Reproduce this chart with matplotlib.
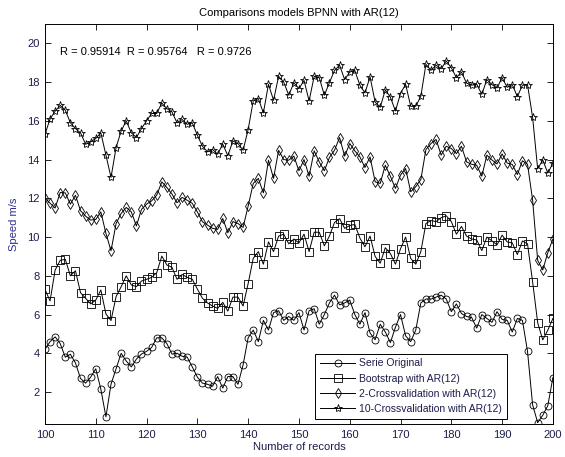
import matplotlib
matplotlib.use("Agg")
import matplotlib.pyplot as plt
import numpy as np

plt.rcParams["font.family"] = ["Liberation Sans", "DejaVu Sans"]

# -------------------------------
# Data (records 100..200)
# -------------------------------
records = np.arange(100, 201)

serie_original = [
    4.2, 4.6, 4.85, 4.5, 3.8, 3.95, 3.5, 2.7, 2.46, 2.77,
    3.2, 2.15, 0.72, 2.4, 3.2, 4.0, 3.6, 3.3, 3.7, 3.96,
    4.1, 4.3, 4.8, 4.8, 4.5, 3.96, 4.0, 3.85, 3.8, 3.3,
    2.77, 2.46, 2.4, 2.3, 2.8, 2.2, 2.8, 2.8, 2.4, 3.4,
    4.8, 5.2, 4.6, 5.7, 5.2, 6.1, 6.2, 5.7, 5.9, 5.7,
    6.1, 5.2, 6.2, 6.3, 5.5, 6.0, 6.6, 7.0, 6.5, 6.6,
    6.75, 6.0, 5.5, 6.1, 5.05, 4.7, 5.5, 5.1, 4.55, 5.35,
    6.0, 4.9, 4.6, 5.2, 6.6, 6.8, 6.8, 6.9, 7.0, 6.8,
    6.15, 6.55, 6.05, 5.9, 5.85, 5.3, 6.0, 5.8, 5.6, 6.15,
    5.75, 5.7, 5.1, 5.8, 5.7, 4.1, 1.35, 0.42, 0.8, 1.3,
    2.75,
]

bootstrap = [
    7.3, 6.7, 8.3, 8.8, 8.85, 8.0, 8.26, 7.13, 6.84, 6.55,
    6.75, 7.27, 6.03, 5.69, 6.93, 7.44, 8.0, 7.53, 7.44, 7.73,
    7.82, 7.92, 8.16, 9.02, 8.56, 8.44, 7.82, 8.07, 7.92, 7.82,
    7.32, 6.84, 6.6, 6.44, 6.32, 6.63, 6.18, 6.9, 6.9, 6.44,
    7.6, 8.9, 9.25, 8.6, 9.75, 9.25, 10.05, 10.15, 9.65, 9.9,
    9.7, 10.15, 9.25, 10.25, 10.25, 9.55, 10.05, 10.75, 10.95, 10.45,
    10.6, 10.65, 9.95, 9.5, 10.05, 9.0, 8.65, 9.45, 9.15, 8.6,
    9.4, 10.0, 8.9, 8.6, 9.25, 10.7, 10.85, 10.8, 11.0, 11.1,
    10.8, 10.15, 10.55, 10.05, 9.9, 9.85, 9.3, 10.0, 9.8, 9.6,
    10.1, 9.75, 9.7, 9.1, 9.8, 9.65, 7.7, 5.58, 4.69, 5.2,
    5.8,
]

cross2 = [
    12.0, 11.75, 11.5, 12.3, 12.28, 11.7, 12.16, 11.36, 11.08, 10.88,
    10.91, 11.3, 10.19, 9.29, 10.7, 11.22, 11.53, 11.3, 10.57, 11.43,
    11.7, 11.87, 12.16, 12.85, 12.56, 12.22, 11.77, 12.05, 11.9, 11.74,
    11.3, 10.79, 10.62, 10.45, 10.4, 10.96, 10.22, 10.8, 10.7, 10.5,
    11.6, 12.77, 13.03, 12.28, 13.97, 13.03, 14.48, 14.0, 13.97, 14.18,
    13.42, 14.0, 13.14, 14.45, 13.88, 13.42, 14.11, 14.48, 15.14, 14.18,
    14.83, 14.45, 14.14, 13.59, 14.14, 12.85, 12.77, 13.71, 13.14, 12.51,
    13.2, 13.54, 12.34, 12.6, 12.97, 14.52, 14.83, 15.04, 14.23, 14.69,
    14.57, 14.31, 14.69, 13.88, 13.76, 13.71, 13.14, 14.23, 13.98, 13.78,
    14.29, 13.82, 13.75, 13.23, 13.94, 13.76, 11.92, 8.8, 8.3, 9.2,
    9.9,
]

cross10 = [
    15.3, 16.1, 16.5, 16.8, 16.55, 15.9, 15.6, 15.38, 14.79, 14.91,
    15.09, 15.38, 14.23, 13.08, 14.62, 15.48, 16.0, 15.38, 15.14, 15.6,
    16.0, 16.38, 16.38, 16.92, 16.63, 16.46, 15.9, 16.07, 15.82, 15.9,
    15.26, 14.69, 14.4, 14.52, 14.28, 14.8, 14.2, 14.96, 14.83, 14.48,
    15.55, 17.03, 17.15, 16.41, 17.89, 17.06, 18.3, 18.0, 17.32, 17.97,
    17.66, 18.09, 17.03, 18.3, 18.23, 17.32, 17.97, 18.6, 18.87, 18.13,
    18.52, 18.6, 17.84, 17.44, 18.27, 16.97, 16.7, 17.6, 17.22, 16.51,
    17.41, 17.89, 16.75, 16.75, 17.27, 18.92, 18.61, 18.87, 18.69, 19.09,
    18.74, 18.23, 18.52, 17.95, 17.84, 17.89, 17.37, 18.13, 17.87, 17.7,
    18.23, 17.73, 17.87, 17.25, 17.84, 17.87, 16.19, 13.52, 13.98, 13.3,
    13.82,
]

r_values = ["0.95914", "0.95764", "0.9726"]

# -------------------------------
# Figure
# -------------------------------
fig = plt.figure(figsize=(5.65, 4.57), dpi=100)
ax = fig.add_axes([0.0796, 0.0722, 0.899, 0.8753])

line_kw = dict(color="black", linewidth=0.7, markeredgewidth=0.6,
               markerfacecolor="none", markeredgecolor="black")
ax.plot(records, serie_original, marker="o", markersize=5,
        label="Serie Original", **line_kw)
ax.plot(records, bootstrap, marker="s", markersize=5.5,
        label="Bootstrap with AR(12)", **line_kw)
ax.plot(records, cross2, marker="d", markersize=5.5,
        label="2-Crossvalidation with AR(12)", **line_kw)
ax.plot(records, cross10, marker="*", markersize=6,
        label="10-Crossvalidation with AR(12)", **line_kw)

ax.set_xlim(100, 200)
ax.set_ylim(0.35, 21)
ax.set_xticks(np.arange(100, 201, 10))
ax.set_yticks(np.arange(2, 21, 2))
ax.tick_params(direction="in", length=4, width=0.6, top=True, right=True,
               labelsize=8, labelcolor="#1c1c4c", pad=4)
for s in ax.spines.values():
    s.set_linewidth(0.7)

ax.set_title("Comparisons models BPNN with AR(12)", fontsize=8, pad=6)
ax.set_xlabel("Number of records", fontsize=8, color="#1c1c4c", labelpad=2)
ax.set_ylabel("Speed m/s", fontsize=8, color="#2e2e8c", labelpad=6)

ax.text(0.0295, 0.93, "R = %s  R = %s   R = %s" % tuple(r_values),
        transform=ax.transAxes, fontsize=8, va="center", ha="left")

leg = ax.legend(loc="lower right", bbox_to_anchor=(0.919, 0.0),
                fontsize=7.5, numpoints=1, handlelength=3.4, fancybox=False,
                framealpha=1, edgecolor="black", borderpad=0.45,
                labelspacing=0.5, handletextpad=0.35)
leg.get_frame().set_linewidth(0.7)
for t in leg.get_texts():
    t.set_color("#1c1c4c")

fig.savefig("out.png", dpi=100)
